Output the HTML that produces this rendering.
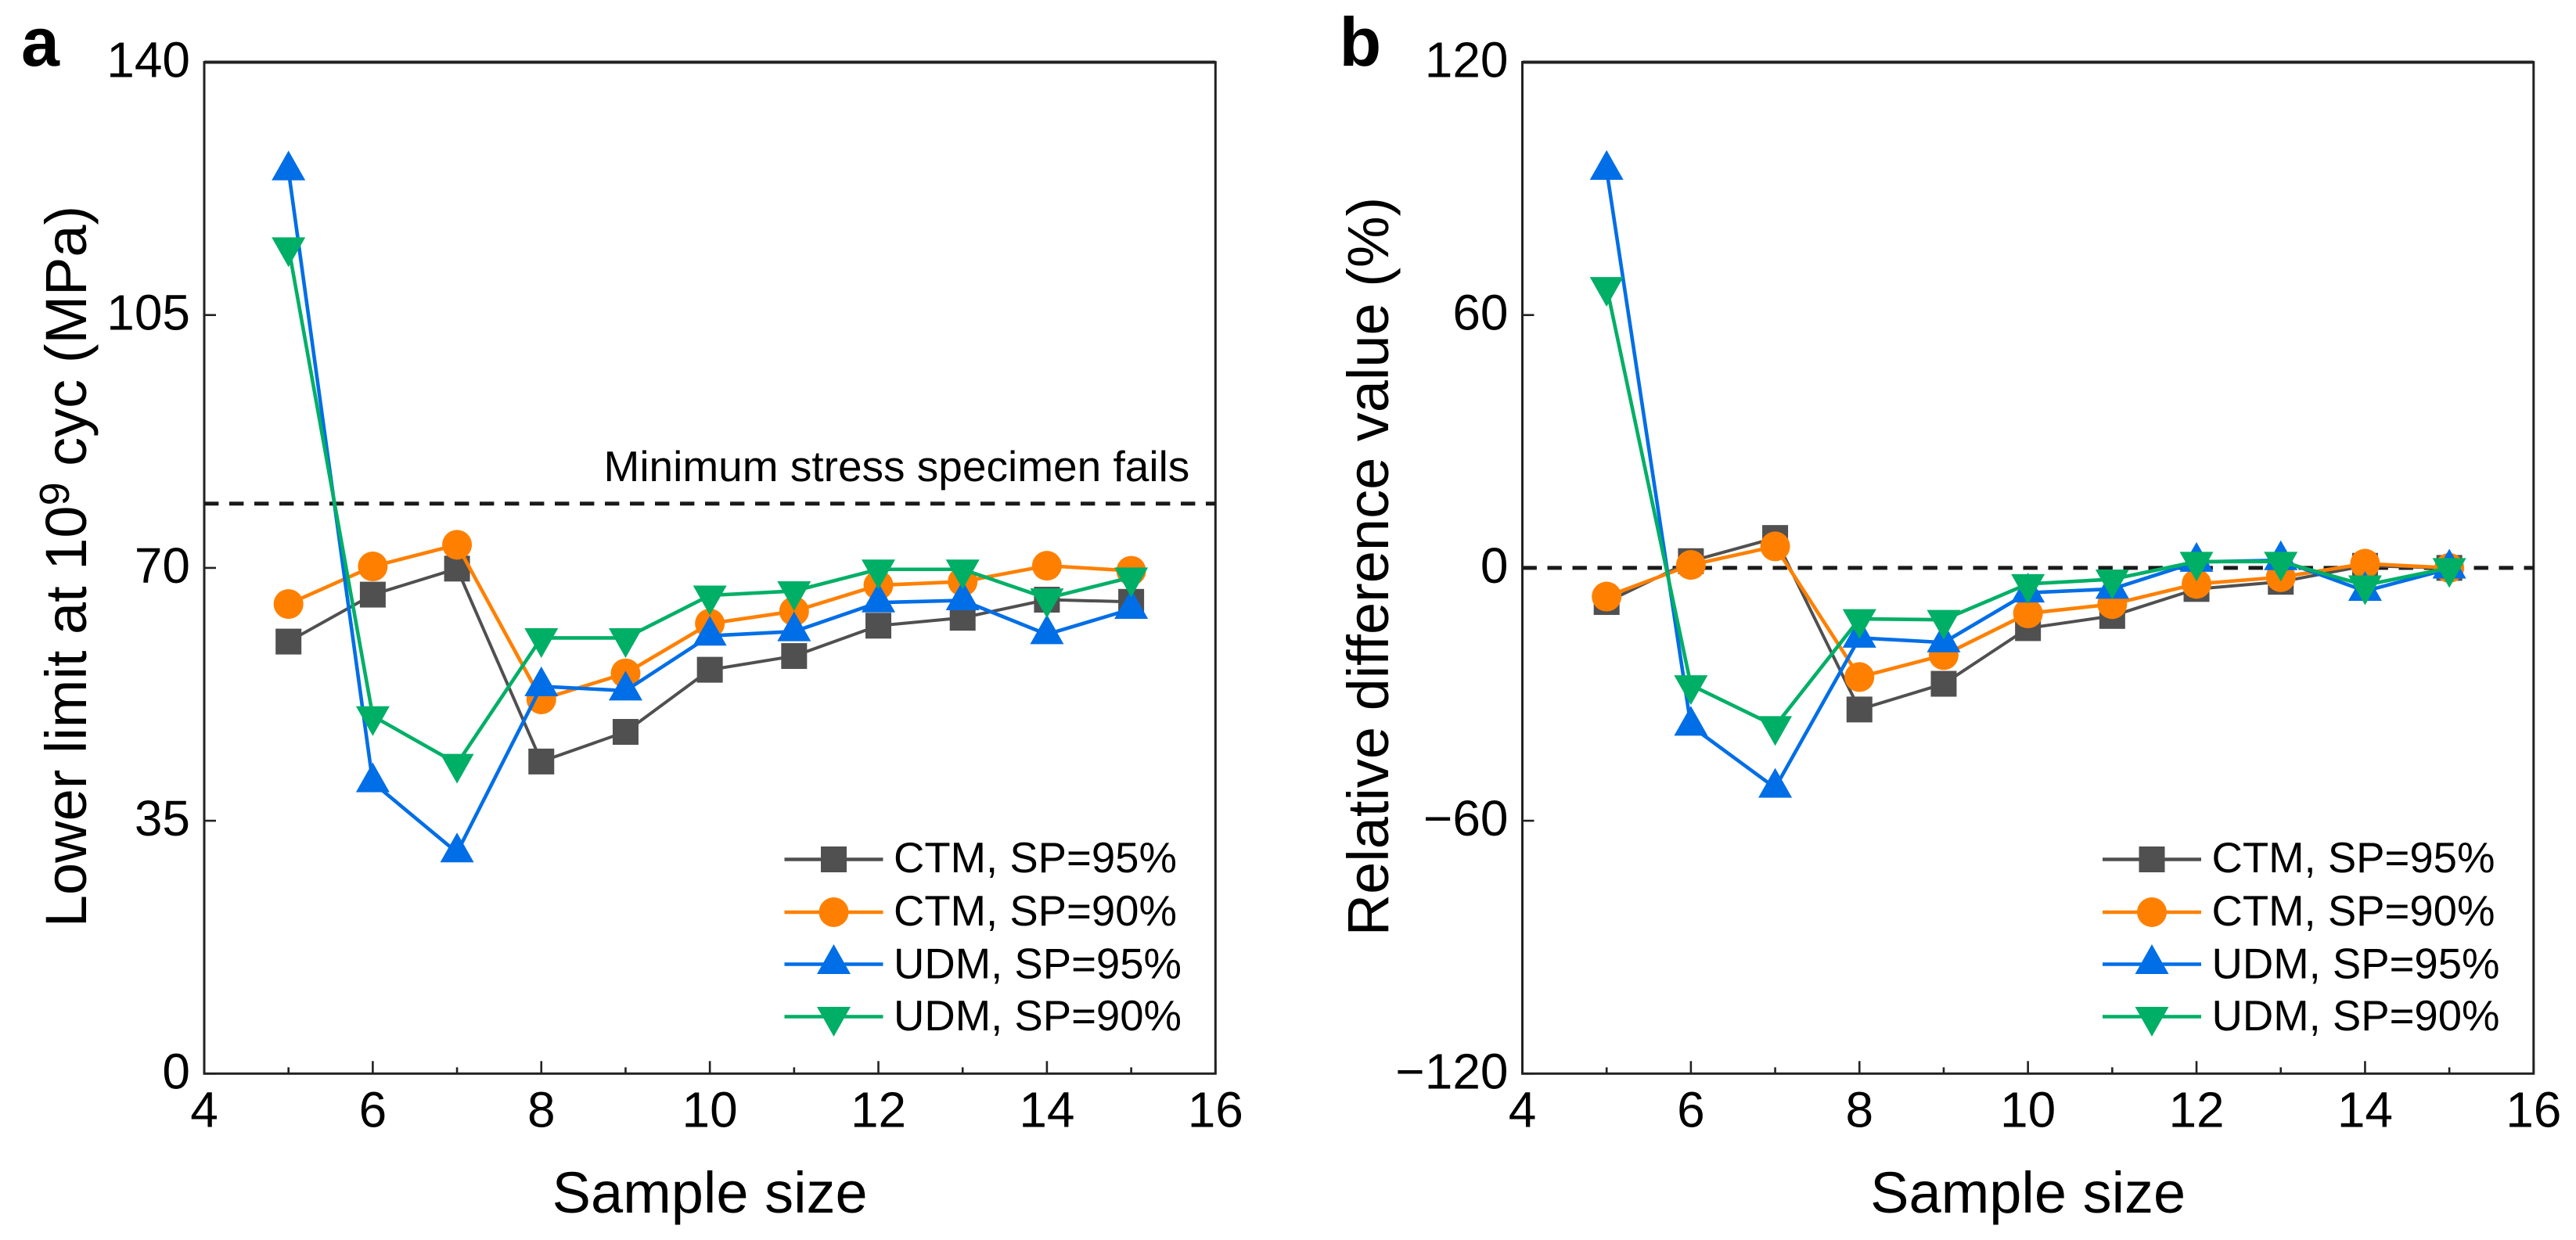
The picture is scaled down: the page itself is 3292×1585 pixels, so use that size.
<!DOCTYPE html>
<html lang="en">
<head>
<meta charset="utf-8">
<title>Lower limit and relative difference versus sample size</title>
<style>
html,body{margin:0;padding:0;background:#fff;}
svg{display:block;font-family:"Liberation Sans",Arial,sans-serif;}
</style>
</head>
<body>
<svg id="figure" xmlns="http://www.w3.org/2000/svg" width="3292" height="1585" viewBox="0 0 3292 1585"></svg>
<script>
const sampleSizes = [5, 6, 7, 8, 9, 10, 11, 12, 13, 14, 15];
const xTicks = [4, 6, 8, 10, 12, 14, 16];
const xMinorTicks = [5, 7, 9, 11, 13, 15];
const seriesNames = ['CTM, SP=95%', 'CTM, SP=90%', 'UDM, SP=95%', 'UDM, SP=90%'];

const yTicksA = [0, 35, 70, 105, 140];
const ctm95A = [59.8, 66.3, 69.9, 43.2, 47.3, 55.9, 57.8, 62, 63.1, 65.6, 65.3];
const ctm90A = [65, 70.2, 73.2, 51.8, 55.4, 62.3, 64, 67.6, 68.1, 70.3, 69.6];
const udm95A = [125, 40.3, 30.6, 53.6, 53, 60.6, 61.2, 65.2, 65.5, 60.8, 64.3];
const udm90A = [114.4, 49.5, 42.9, 60.3, 60.3, 66.2, 66.8, 69.8, 69.8, 65.8, 68.7];
const referenceA = 78.9;

const yTicksB = [-120, -60, 0, 60, 120];
const ctm95B = [-8.1, 1.6, 7.1, -33.6, -27.5, -14.3, -11.4, -5, -3.3, 0.5, 0];
const ctm90B = [-6.8, 0.7, 5.1, -25.9, -20.7, -10.8, -8.6, -3.8, -2.2, 1, 0];
const udm95B = [94.4, -37.5, -52.2, -16.6, -17.7, -5.9, -5, 1.4, 1.8, -5.5, -0.2];
const udm90B = [66.7, -27.8, -37.5, -12.1, -12.3, -3.8, -2.7, 1.5, 1.5, -4.1, 0];
const referenceB = 0;

const NS = 'http://www.w3.org/2000/svg';
const svg = document.getElementById('figure');
const colors = ['#505050', '#FF8000', '#006EE6', '#00AF66'];
const shapes = ['square', 'circle', 'up', 'down'];
const slugs = ['ctm-sp95', 'ctm-sp90', 'udm-sp95', 'udm-sp90'];
const INK = '#222222';

function make(tag, attrs, parent) {
  const el = document.createElementNS(NS, tag);
  for (const k in attrs) el.setAttribute(k, attrs[k]);
  (parent || svg).appendChild(el);
  return el;
}

function drawMarker(parent, shape, cx, cy, color) {
  let el;
  if (shape === 'square') {
    el = make('rect', {x: cx - 16.5, y: cy - 16.5, width: 33, height: 33, fill: color}, parent);
  } else if (shape === 'circle') {
    el = make('circle', {cx: cx, cy: cy, r: 19, fill: color}, parent);
  } else if (shape === 'up') {
    el = make('polygon', {points: (cx - 21.5) + ',' + (cy + 12.5) + ' ' + (cx + 21.5) + ',' + (cy + 12.5) + ' ' + cx + ',' + (cy - 25.5), fill: color}, parent);
  } else {
    el = make('polygon', {points: (cx - 21.5) + ',' + (cy - 12.5) + ' ' + (cx + 21.5) + ',' + (cy - 12.5) + ' ' + cx + ',' + (cy + 25.5), fill: color}, parent);
  }
  
  
}

function drawPanel(cfg) {
  const g = make('g', {});
  
  

  const L = cfg.left, R = cfg.left + 1292.3, T = 79.5, B = 1372.3;
  const sx = v => L + (v - xTicks[0]) / (xTicks[xTicks.length - 1] - xTicks[0]) * (R - L);
  const sy = v => B - (v - cfg.yTicks[0]) / (cfg.yTicks[cfg.yTicks.length - 1] - cfg.yTicks[0]) * (B - T);

  const frame = make('rect', {x: L, y: T, width: R - L, height: B - T, fill: 'none', stroke: INK, 'stroke-width': 3}, g);
  
  
  const topEdge = make('line', {x1: L, x2: R, y1: T, y2: T, stroke: INK, 'stroke-width': 4}, g);
  
  

  xTicks.forEach(v => {
    const t = make('line', {x1: sx(v), x2: sx(v), y1: B, y2: B - 16, stroke: INK, 'stroke-width': 2.6}, g);
    
    
    const lab = make('text', {x: sx(v), y: 1440.5, 'text-anchor': 'middle', 'font-size': 64, fill: '#000'}, g);
    lab.textContent = v;
    
    
  });
  xMinorTicks.forEach(v => {
    const t = make('line', {x1: sx(v), x2: sx(v), y1: B, y2: B - 8, stroke: INK, 'stroke-width': 2.6}, g);
    
    
  });
  cfg.yTicks.forEach(v => {
    const t = make('line', {x1: L, x2: L + 15, y1: sy(v), y2: sy(v), stroke: INK, 'stroke-width': 2.6}, g);
    
    
    const lab = make('text', {x: L - 18, y: sy(v) + 19, 'text-anchor': 'end', 'font-size': 64, fill: '#000'}, g);
    lab.textContent = String(v).replace('-', '\u2212');
    
    
  });

  const ref = make('line', {x1: L, x2: R, y1: sy(cfg.reference), y2: sy(cfg.reference), stroke: '#1a1a1a', 'stroke-width': 5, 'stroke-dasharray': '18.4 13.6', 'stroke-dashoffset': 0}, g);
  
  

  cfg.series.forEach((vals, i) => {
    const sg = make('g', {}, g);
    
    
    const pts = vals.map((v, j) => sx(sampleSizes[j]) + ',' + sy(v)).join(' ');
    const line = make('polyline', {points: pts, fill: 'none', stroke: colors[i], 'stroke-width': i === 0 ? 4 : 4.6, 'stroke-linejoin': 'round'}, sg);
    
    
    vals.forEach((v, j) => drawMarker(sg, shapes[i], sx(sampleSizes[j]), sy(v), colors[i]));
  });

  const xt = make('text', {x: (L + R) / 2, y: 1550, 'text-anchor': 'middle', 'font-size': 74, fill: '#000'}, g);
  xt.textContent = 'Sample size';
  
  

  const yt = make('text', {transform: 'translate(' + cfg.yTitleX + ',724) rotate(-90)', 'text-anchor': 'middle', 'font-size': 74, fill: '#000'}, g);
  
  
  cfg.yTitle.forEach(part => {
    const s = make('tspan', part.sup ? {'font-size': 54, dy: -22} : (part.after ? {dy: 22} : {}), yt);
    s.textContent = part.t;
  });

  const pl = make('text', {x: cfg.left - 234, y: 84, 'font-size': 88, 'font-weight': 'bold', fill: '#000'}, g);
  pl.textContent = cfg.id;
  
  

  const leg = make('g', {}, g);
  
  
  const rowY = [1098.5, 1166, 1232.5, 1299.5];
  const baseY = [1115, 1183, 1250.5, 1317];
  seriesNames.forEach((name, i) => {
    const e = make('g', {}, leg);
    
    
    const ll = make('line', {x1: L + 741.5, x2: L + 867.5, y1: rowY[i], y2: rowY[i], stroke: colors[i], 'stroke-width': 4.6}, e);
    
    
    drawMarker(e, shapes[i], L + 804.5, rowY[i], colors[i]);
    const tx = make('text', {x: L + 881, y: baseY[i], 'font-size': 54.5, fill: '#000'}, e);
    tx.textContent = name;
    
    
  });

  if (cfg.note) {
    const n = make('text', {x: 771.5, y: 615, 'font-size': 55, fill: '#000'}, g);
    n.textContent = cfg.note;
    
    
  }
}

drawPanel({
  id: 'a', left: 261, yTicks: yTicksA, reference: referenceA,
  series: [ctm95A, ctm90A, udm95A, udm90A], yTitleX: 110,
  yTitle: [{t: 'Lower limit at 10'}, {t: '9', sup: true}, {t: ' cyc (MPa)', after: true}],
  note: 'Minimum stress specimen fails'
});
drawPanel({
  id: 'b', left: 1945.5, yTicks: yTicksB, reference: referenceB,
  series: [ctm95B, ctm90B, udm95B, udm90B], yTitleX: 1774,
  yTitle: [{t: 'Relative difference value (%)'}]
});
</script>
</body>
</html>
